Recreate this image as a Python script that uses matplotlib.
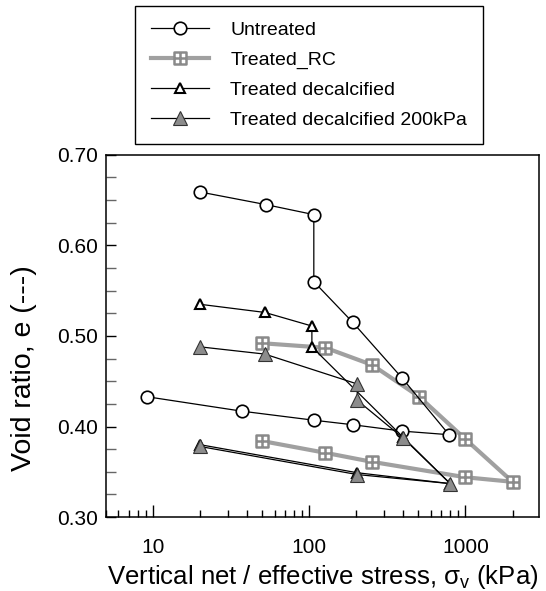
"""
Void ratio vs vertical stress (oedometer curves)
"""

import matplotlib
matplotlib.use("Agg")
import matplotlib.pyplot as plt
from matplotlib.path import Path
from matplotlib.ticker import LogLocator, MultipleLocator, FixedFormatter, FixedLocator

plt.rcParams['font.family'] = ['Liberation Sans', 'DejaVu Sans']
plt.rcParams['mathtext.fontset'] = 'custom'
plt.rcParams['mathtext.rm'] = 'Liberation Sans'

# data
untreated_x = [20, 53, 107, 107, 190, 391, 785, 391, 190, 107, 37, 9.1]
untreated_e = [0.659, 0.645, 0.634, 0.560, 0.515, 0.454, 0.391, 0.395, 0.402, 0.407, 0.417, 0.433]

rc_x = [50, 127, 253, 505, 1000, 2000, 1000, 253, 127, 50]
rc_e = [0.492, 0.487, 0.468, 0.433, 0.386, 0.339, 0.344, 0.361, 0.371, 0.384]

decalc_x = [20, 52, 104, 104, 400, 798, 203, 20]
decalc_e = [0.535, 0.526, 0.511, 0.488, 0.388, 0.337, 0.349, 0.380]

decalc200_x = [20, 52, 203, 203, 401, 798, 203, 20]
decalc200_e = [0.488, 0.480, 0.447, 0.429, 0.387, 0.337, 0.347, 0.378]

labels = ["Untreated", "Treated_RC", "Treated decalcified", "Treated decalcified 200kPa"]

# square with a cross inside (the "⊞" marker)
boxplus = Path(
    [(-1, -1), (1, -1), (1, 1), (-1, 1), (-1, -1), (0, -1), (0, 1), (-1, 0), (1, 0)],
    [Path.MOVETO, Path.LINETO, Path.LINETO, Path.LINETO, Path.CLOSEPOLY,
     Path.MOVETO, Path.LINETO, Path.MOVETO, Path.LINETO])

fig = plt.figure(figsize=(5.46, 5.91), dpi=100)
ax = fig.add_axes([0.194, 0.125, 0.793, 0.613])

ax.plot(untreated_x, untreated_e, color="black", lw=0.9, marker="o", ms=9,
        mfc="white", mec="black", mew=1.2, label=labels[0], zorder=3)
ax.plot(rc_x, rc_e, color="#a0a0a0", lw=3, marker=boxplus, ms=8,
        mfc="white", mec="#8a8a8a", mew=1.8, label=labels[1], zorder=2)
ax.plot(decalc_x, decalc_e, color="black", lw=0.9, marker="^", ms=6.5,
        mfc="white", mec="black", mew=1.5, label=labels[2], zorder=4)
ax.plot(decalc200_x, decalc200_e, color="black", lw=0.9, marker="^", ms=10,
        mfc="#8c8c8c", mec="#333333", mew=0.8, label=labels[3], zorder=4)

ax.set_xscale("log")
ax.set_xlim(5, 2950)
ax.set_ylim(0.30, 0.70)

ax.xaxis.set_major_locator(FixedLocator([10, 100, 1000]))
ax.xaxis.set_major_formatter(FixedFormatter(["10", "100", "1000"]))
ax.xaxis.set_minor_locator(LogLocator(base=10, subs=range(2, 10)))
ax.xaxis.set_minor_formatter(plt.NullFormatter())
ax.yaxis.set_major_locator(MultipleLocator(0.10))
ax.yaxis.set_minor_locator(MultipleLocator(0.025))
ax.yaxis.set_major_formatter(plt.FuncFormatter(lambda v, p: "%.2f" % v))

ax.tick_params(which="both", direction="in", labelsize=15, width=1)
ax.tick_params(axis="x", which="major", length=9, pad=15)
ax.tick_params(axis="x", which="minor", length=5)
ax.tick_params(axis="y", which="both", length=7, pad=6)
ax.tick_params(axis="y", which="minor", color="#666666")

for s in ax.spines.values():
    s.set_linewidth(1.1)

ax.set_xlabel("Vertical net / effective stress, σ$_{\\rm v}$ (kPa)", fontsize=18.5, labelpad=4)
ax.set_ylabel("Void ratio, e (---)", fontsize=20.5)
ax.yaxis.set_label_coords(-0.16, 0.41)

fig.legend(loc="upper center", bbox_to_anchor=(0.566, 0.99), fontsize=14,
           frameon=True, fancybox=False, edgecolor="black", framealpha=1,
           handlelength=3.0, borderpad=0.8, labelspacing=0.63, handletextpad=1.1,
           borderaxespad=0)

fig.savefig("out.png", dpi=100)
